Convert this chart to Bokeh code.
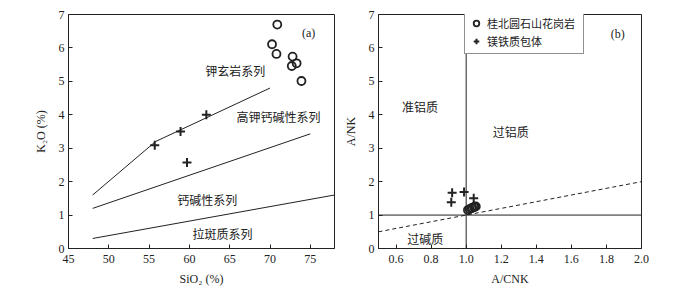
from bokeh.plotting import figure
from bokeh.layouts import row
from bokeh.models import FixedTicker, Legend, LegendItem, Range1d
from bokeh.core.properties import value
from bokeh.embed import file_html
from bokeh.resources import INLINE

# ---------- data (a) ----------
granite_sio2 = [70.9, 70.25, 70.8, 72.8, 73.3, 72.7, 73.9]
granite_k2o = [6.7, 6.11, 5.82, 5.74, 5.54, 5.46, 5.01]
enclave_sio2 = [55.7, 58.9, 62.1, 59.7]
enclave_k2o = [3.09, 3.50, 4.00, 2.57]
shoshonite_x = [48, 55.8, 70]
shoshonite_y = [1.6, 3.2, 4.8]
highk_x = [48, 75]
highk_y = [1.2, 3.43]
calc_x = [48, 78]
calc_y = [0.3, 1.6]
a_xticks = [45, 50, 55, 60, 65, 70, 75]
a_yticks = [0, 1, 2, 3, 4, 5, 6, 7]
a_labels = ["钾玄岩系列", "高钾钙碱性系列", "钙碱性系列", "拉斑质系列"]
a_label_x = [65.7, 71.05, 62.2, 64.1]
a_label_y = [5.31, 3.94, 1.48, 0.45]

# ---------- data (b) ----------
granite_acnk = [1.01, 1.02, 1.03, 1.035, 1.045, 1.05, 1.055]
granite_ank = [1.15, 1.18, 1.20, 1.22, 1.24, 1.25, 1.26]
enclave_acnk = [0.92, 0.915, 0.988, 1.043]
enclave_ank = [1.67, 1.38, 1.69, 1.50]
b_xticks = [0.6, 0.8, 1.0, 1.2, 1.4, 1.6, 1.8, 2.0]
b_xticklabels = ["0.6", "0.8", "1.0", "1.2", "1.4", "1.6", "1.8", "2.0"]
b_yticks = [0, 1, 2, 3, 4, 5, 6, 7]
b_labels = ["准铝质", "过铝质", "过碱质"]
b_label_x = [0.737, 1.254, 0.767]
b_label_y = [4.24, 3.49, 0.30]
diag_x = [0.5, 2.0]
diag_y = [0.5, 2.0]

SERIF = "Liberation Serif"
CJK = "Noto Sans CJK SC"
INK = "#222222"


def style(p):
    p.outline_line_color = INK
    p.outline_line_width = 1
    p.grid.visible = False
    p.background_fill_color = "white"
    p.border_fill_color = "white"
    for ax in (p.xaxis[0], p.yaxis[0]):
        ax.axis_line_color = INK
        ax.major_tick_in = 4
        ax.major_tick_out = 0
        ax.minor_tick_line_color = None
        ax.major_tick_line_color = INK
        ax.major_label_text_font = SERIF
        ax.major_label_text_font_size = "12px"
        ax.major_label_text_color = INK
        ax.axis_label_text_font = SERIF
        ax.axis_label_text_font_size = "12px"
        ax.axis_label_text_font_style = "normal"
        ax.axis_label_text_color = INK
    p.xaxis.major_label_standoff = 6
    p.yaxis.major_label_standoff = 4
    p.xaxis.axis_label_standoff = 6
    p.yaxis.axis_label_standoff = 8


# ---------- figure (a) ----------
pa = figure(width=340, height=294, output_backend="svg", toolbar_location=None,
            x_range=Range1d(45, 78), y_range=Range1d(0, 7),
            min_border_left=68, min_border_right=6, min_border_top=14, min_border_bottom=44)
style(pa)
pa.xaxis.ticker = FixedTicker(ticks=a_xticks)
pa.yaxis.ticker = FixedTicker(ticks=a_yticks)
pa.xaxis.axis_label = "SiO₂ (%)"
pa.yaxis.axis_label = "K₂O (%)"

for xs, ys in ((shoshonite_x, shoshonite_y), (highk_x, highk_y), (calc_x, calc_y)):
    pa.line(xs, ys, line_color=INK, line_width=1)

pa.scatter(granite_sio2, granite_k2o, marker="circle", size=8, fill_color=None,
           line_color=INK, line_width=1.8)
pa.scatter(enclave_sio2, enclave_k2o, marker="cross", size=9,
           line_color=INK, line_width=2)
pa.text(a_label_x, a_label_y, text=a_labels, text_font=value(CJK), text_font_size="12px",
        text_color=INK, text_align="center", text_baseline="middle")
pa.text([74.8], [6.44], text=["(a)"], text_font=value(SERIF), text_font_size="12px",
        text_color=INK, text_align="center", text_baseline="middle")

# ---------- figure (b) ----------
pb = figure(width=340, height=294, output_backend="svg", toolbar_location=None,
            x_range=Range1d(0.5, 2.0), y_range=Range1d(0, 7),
            min_border_left=36, min_border_right=39, min_border_top=14, min_border_bottom=46)
style(pb)
pb.xaxis.ticker = FixedTicker(ticks=b_xticks)
pb.xaxis.major_label_overrides = {t: l for t, l in zip(b_xticks, b_xticklabels)}
pb.yaxis.ticker = FixedTicker(ticks=b_yticks)
pb.xaxis.axis_label = "A/CNK"
pb.yaxis.axis_label = "A/NK"

pb.line([1.0, 1.0], [0, 7], line_color=INK, line_width=1)
pb.line([0.5, 2.0], [1.0, 1.0], line_color=INK, line_width=1)
pb.line(diag_x, diag_y, line_color=INK, line_width=1, line_dash="4 3")

rg = pb.scatter(granite_acnk, granite_ank, marker="circle", size=8, fill_color=None,
                line_color=INK, line_width=1.8)
re = pb.scatter(enclave_acnk, enclave_ank, marker="cross", size=9,
                line_color=INK, line_width=2)
pb.text(b_label_x, b_label_y, text=b_labels, text_font=value(CJK), text_font_size="12px",
        text_color=INK, text_align="center", text_baseline="middle")
pb.text([1.864], [6.41], text=["(b)"], text_font=value(SERIF), text_font_size="12px",
        text_color=INK, text_align="center", text_baseline="middle")

legend = Legend(items=[LegendItem(label="桂北圆石山花岗岩", renderers=[rg]),
                       LegendItem(label="镁铁质包体", renderers=[re])],
                location=(86, 194))
legend.label_text_font = CJK
legend.label_text_font_size = "11px"
legend.label_text_color = INK
legend.padding = 4
legend.spacing = 2
legend.margin = 0
legend.glyph_width = 14
legend.glyph_height = 14
legend.label_height = 14
legend.label_width = 92
legend.label_standoff = 4
legend.border_line_color = INK
legend.border_line_width = 1
legend.background_fill_alpha = 1
pb.add_layout(legend)

layout = row(pa, pb)
open("out.html", "w").write(file_html(layout, INLINE))
